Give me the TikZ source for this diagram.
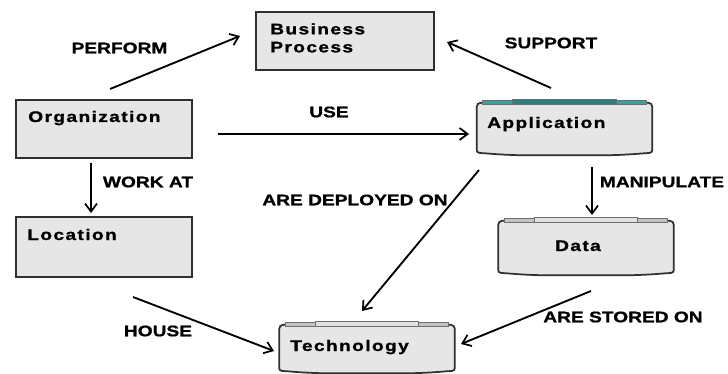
\documentclass[tikz,border=0pt]{standalone}
\usepackage{fontspec}
\setmainfont{Liberation Sans}[FakeStretch=1.25,FakeBold=1]
\newfontfamily\boxfont{Liberation Sans}[FakeStretch=1.25,LetterSpace=9,FakeBold=1.2]
\usetikzlibrary{arrows.meta}

\definecolor{boxgray}{HTML}{E6E6E6}
\definecolor{edgegray}{HTML}{303030}
\definecolor{lidteal}{HTML}{3E9E9E}
\definecolor{lidtealdark}{HTML}{2A8080}
\definecolor{lidgray}{HTML}{C4C4C4}
\definecolor{lidlight}{HTML}{E2E2E2}

\tikzset{
	box/.style={draw=edgegray, line width=1.3pt, fill=boxgray, inner sep=0pt,
		minimum width=132pt, minimum height=43.5pt},
	drum/.style={inner sep=0pt, minimum width=131.25pt, minimum height=41.25pt},
	boxtext/.style={inner sep=0pt, font=\boxfont\bfseries\fontsize{11.5}{13.5}\selectfont, align=left},
	lbl/.style={inner sep=0pt, font=\bfseries\fontsize{11.5}{13.5}\selectfont},
	link/.style={line width=1.4pt, -{Straight Barb[length=6pt,width=9pt,line width=1.3pt]}}
}

\begin{document}
\begin{tikzpicture}[x=0.75pt,y=-0.75pt]
		\useasboundingbox (0,0) rectangle (728,374);
		
		% boxes
		\node[box, minimum width=133.5pt] (bp) at (345,41) {};
		\node[box] (org) at (104,129) {};
		\node[box, minimum height=45pt] (loc) at (104,247) {};
		
		% drums
		\node[drum] (app) at (564.5,127.5) {};
		\node[drum, minimum height=42.75pt] (dat) at (586,246.5) {};
		\node[drum, minimum height=38.25pt] (tec) at (367,347.5) {};
		
		\foreach \n/\lc/\li in {app/lidteal/lidtealdark, dat/lidgray/lidlight, tec/lidgray/lidlight}{
			\draw[edgegray, line width=1.3pt, fill=boxgray]
				([shift={(0,7)}]\n.north west) -- ([shift={(0,-5)}]\n.south west)
				to[out=-90,in=175] ([shift={(8,-2)}]\n.south west)
				to[out=-5,in=180] (\n.south)
				to[out=0,in=185] ([shift={(-8,-2)}]\n.south east)
				to[out=5,in=-90] ([shift={(0,-5)}]\n.south east)
				-- ([shift={(0,7)}]\n.north east)
				to[out=90,in=0] ([shift={(-4,3)}]\n.north east)
				-- ([shift={(4,3)}]\n.north west)
				to[out=180,in=90] cycle;
			\draw[edgegray!70, line width=0.6pt, fill=\lc]
				([shift={(6,1)}]\n.north west) rectangle ([shift={(-6,5)}]\n.north east);
			\draw[edgegray!70, line width=0.6pt, fill=\li]
				([shift={(36,0)}]\n.north west) rectangle ([shift={(-36,5)}]\n.north east);
		}
		
		% texts in the shapes
		\node[boxtext, anchor=north west] (bptxt) at (270,23) {Business\\Process};
		\node[boxtext, anchor=base west] (orgtxt) at (28,122) {Organization};
		\node[boxtext, anchor=base west] (loctxt) at (27,240) {Location};
		\node[boxtext, anchor=base west] (apptxt) at (487,128) {Application};
		\node[boxtext, anchor=base] (dattxt) at (578,251) {Data};
		\node[boxtext, anchor=base west] (tectxt) at (290,351) {Technology};
		
		% arrow ends
		\coordinate (pf1) at (110,89);   \coordinate (pf2) at (240,36);
		\coordinate (sp1) at (551,88);   \coordinate (sp2) at (447,42);
		\coordinate (us1) at (218,134);  \coordinate (us2) at (469,134);
		\coordinate (wk1) at (91,163);   \coordinate (wk2) at (91,213);
		\coordinate (mn1) at (592,167);  \coordinate (mn2) at (592,215);
		\coordinate (dp1) at (479,170);  \coordinate (dp2) at (362,311);
		\coordinate (hs1) at (133,297);  \coordinate (hs2) at (274,351);
		\coordinate (st1) at (591,291);  \coordinate (st2) at (461,344);
		
		\draw[link] (pf1) -- (pf2);
		\draw[link] (sp1) -- (sp2);
		\draw[link] (us1) -- (us2);
		\draw[link] (wk1) -- (wk2);
		\draw[link] (mn1) -- (mn2);
		\draw[link] (dp1) -- (dp2);
		\draw[link] (hs1) -- (hs2);
		\draw[link] (st1) -- (st2);
		
		% labels
		\node[lbl] (lpf) at (119.5,48) {PERFORM};
		\node[lbl] (lsp) at (551,43) {SUPPORT};
		\node[lbl] (lus) at (329,112) {USE};
		\node[lbl] (lwk) at (148,182) {WORK AT};
		\node[lbl] (lmn) at (662,182) {MANIPULATE};
		\node[lbl] (ldp) at (355,200) {ARE DEPLOYED ON};
		\node[lbl] (lhs) at (158,331) {HOUSE};
		\node[lbl] (lst) at (623,317) {ARE STORED ON};
\end{tikzpicture}
\end{document}
